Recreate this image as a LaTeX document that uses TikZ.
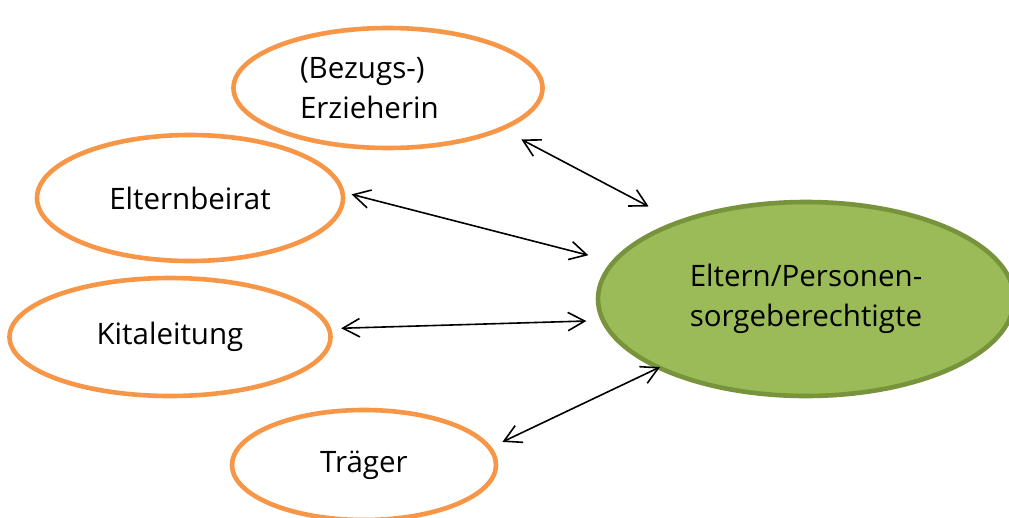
\documentclass[tikz,border=0pt]{standalone}
\usepackage{fontspec}
\setmainfont{Open Sans}
\usepackage{tikz}
\usetikzlibrary{shapes.geometric}
\usetikzlibrary{arrows.meta}

\definecolor{kitaorange}{HTML}{F79646}
\definecolor{elterngreen}{HTML}{9BBB59}
\definecolor{elternborder}{HTML}{77933C}

\begin{document}
\begin{tikzpicture}[x=0.25mm,y=-0.25mm,
    every node/.style={shape=ellipse,line width=1.15mm,inner sep=0pt,font=\fontsize{21}{28.4}\selectfont},
    partner/.style={draw=kitaorange,fill=white},
    family/.style={draw=elternborder,fill=elterngreen,align=left},
    link/.style={{Straight Barb[length=4.2mm,width=4.6mm]}-{Straight Barb[length=4.2mm,width=4.6mm]},line width=0.4mm}]
    \useasboundingbox (0,0) rectangle (1009,517);

    \node (erzieherin)[partner,minimum width=77.25mm,minimum height=30mm,text width=44mm,align=left] at (388, 88) {(Bezugs-)\\Erzieherin};
    \node (beirat)[partner,minimum width=76.5mm,minimum height=31.5mm] at (190, 198) {Elternbeirat};
    \node (leitung)[partner,minimum width=80.25mm,minimum height=29.5mm] at (170, 337) {Kitaleitung};
    \node (traeger)[partner,minimum width=66mm,minimum height=27.5mm] at (364, 465) {Träger};
    \node (eltern)[family,minimum width=104mm,minimum height=48.5mm] at (806, 299) {Eltern/Personen-\\sorgeberechtigte};

    \draw [link,shorten <=5mm,shorten >=7.75mm] (erzieherin.-20) -- (eltern.149);
    \draw [link,shorten <=1.75mm,shorten >=6mm] (beirat.2) -- (eltern.169);
    \draw [link,shorten <=2.5mm,shorten >=3.6mm] (leitung.3) -- (eltern.-174);
    \draw [link,shorten <=3mm,shorten >=-1mm] (traeger.8) -- (eltern.-155);
\end{tikzpicture}
\end{document}
